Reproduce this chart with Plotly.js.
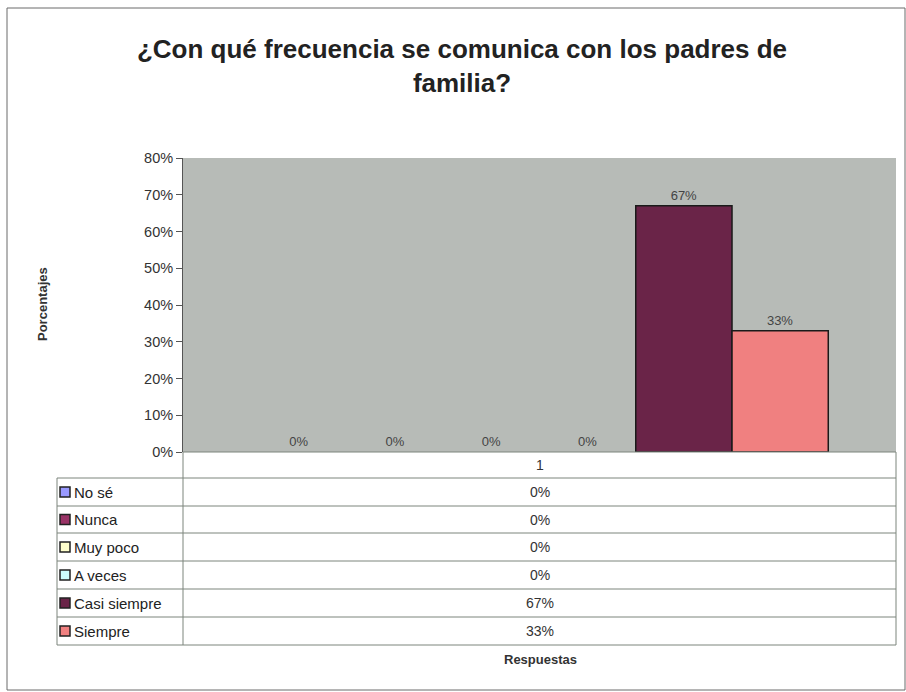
<!DOCTYPE html>
<html>
<head>
<meta charset="utf-8">
<script src="https://cdn.plot.ly/plotly-3.0.1.min.js"></script>
<style>html,body{margin:0;padding:0;background:#fff;}#chart{width:906px;height:692px;}</style>
</head>
<body>
<div id="chart"></div>
<script>
// ---- data ----
const categories = ["1"];
const seriesNames = ["No sé", "Nunca", "Muy poco", "A veces", "Casi siempre", "Siempre"];
const seriesValues = [0, 0, 0, 0, 0.67, 0.33];
const seriesColors = ["#9999ff", "#993366", "#ffffcc", "#ccffff", "#6a2448", "#f08080"];
const yTickVals = [0, 0.1, 0.2, 0.3, 0.4, 0.5, 0.6, 0.7, 0.8];
const yTickText = ["0%", "10%", "20%", "30%", "40%", "50%", "60%", "70%", "80%"];

// ---- geometry helpers (pixel -> paper) ----
const W = 906, H = 692;
const L = 183, R = 896, T = 158, B = 452;
const px = x => (x - L) / (R - L);
const py = y => (B - y) / (B - T);
const FONT = "Arial, Liberation Sans, sans-serif";

const traces = seriesNames.map((name, i) => ({
  type: "bar",
  name: name,
  x: categories,
  y: [seriesValues[i]],
  marker: {color: seriesColors[i], line: {color: "#1a1a1a", width: seriesValues[i] > 0 ? 1.5 : 0}},
  text: [Math.round(seriesValues[i] * 100) + "%"],
  textposition: "outside",
  cliponaxis: false,
  textfont: {family: FONT, size: 13, color: "#444"},
  showlegend: false,
  hoverinfo: "skip"
}));

const shapes = [];
const annotations = [];
const lineCol = "#7d857d";

// outer frame
shapes.push({type: "rect", xref: "paper", yref: "paper", x0: px(7), x1: px(905), y0: py(8), y1: py(690),
  line: {color: "#6a6a6a", width: 1}, fillcolor: "rgba(0,0,0,0)"});

// table
const rowBounds = [478, 506, 533, 561, 589, 617, 645];
shapes.push({type: "line", xref: "paper", yref: "paper", x0: px(L), x1: px(R), y0: py(B), y1: py(B), line: {color: lineCol, width: 1}});
shapes.push({type: "line", xref: "paper", yref: "paper", x0: px(L), x1: px(L), y0: py(B), y1: py(645), line: {color: lineCol, width: 1}});
shapes.push({type: "line", xref: "paper", yref: "paper", x0: px(R), x1: px(R), y0: py(B), y1: py(645), line: {color: lineCol, width: 1}});
shapes.push({type: "line", xref: "paper", yref: "paper", x0: px(57), x1: px(57), y0: py(478), y1: py(645), line: {color: lineCol, width: 1}});
rowBounds.forEach(yb => {
  shapes.push({type: "line", xref: "paper", yref: "paper", x0: px(57), x1: px(R), y0: py(yb), y1: py(yb), line: {color: lineCol, width: 1}});
});
annotations.push({xref: "paper", yref: "paper", x: px((L + R) / 2), y: py(465), xanchor: "center", yanchor: "middle",
  text: categories[0], showarrow: false, font: {family: FONT, size: 14, color: "#333"}});

seriesNames.forEach((name, i) => {
  const y0 = rowBounds[i], y1 = rowBounds[i + 1], yc = (y0 + y1) / 2;
  shapes.push({type: "rect", xref: "paper", yref: "paper", x0: px(60), x1: px(70), y0: py(yc - 5), y1: py(yc + 5),
    fillcolor: seriesColors[i], line: {color: "#222", width: 1.5}});
  annotations.push({xref: "paper", yref: "paper", x: px(72), y: py(yc), xanchor: "left", yanchor: "middle",
    text: name, showarrow: false, font: {family: FONT, size: 15, color: "#222"}});
  annotations.push({xref: "paper", yref: "paper", x: px((L + R) / 2), y: py(yc), xanchor: "center", yanchor: "middle",
    text: Math.round(seriesValues[i] * 100) + "%", showarrow: false, font: {family: FONT, size: 14, color: "#333"}});
});

annotations.push({xref: "paper", yref: "paper", x: px(540), y: py(659), xanchor: "center", yanchor: "middle",
  text: "<b>Respuestas</b>", showarrow: false, font: {family: FONT, size: 13, color: "#333"}});

// y-axis title as rotated annotation
annotations.push({xref: "paper", yref: "paper", x: px(42), y: py(304), xanchor: "center", yanchor: "middle",
  textangle: -90, text: "<b>Porcentajes</b>", showarrow: false, font: {family: FONT, size: 13, color: "#333"}});

const layout = {
  width: W, height: H,
  margin: {l: L, r: W - R, t: T, b: H - B, pad: 0},
  paper_bgcolor: "#ffffff",
  plot_bgcolor: "#b7bbb7",
  title: {
    text: "<b>¿Con qué frecuencia se comunica con los padres de<br>familia?</b>",
    x: 462 / W, xref: "container", xanchor: "center",
    y: 1 - 58 / H, yref: "container", yanchor: "middle",
    font: {family: FONT, size: 26, color: "#222"}
  },
  barmode: "group",
  bargap: 0.19,
  bargroupgap: 0,
  xaxis: {
    type: "category",
    showticklabels: false,
    showgrid: false, zeroline: false, showline: false, ticks: ""
  },
  yaxis: {
    range: [0, 0.8],
    tickvals: yTickVals, ticktext: yTickText,
    showgrid: false, zeroline: false,
    showline: true, linecolor: "#555", linewidth: 1,
    ticks: "outside", ticklen: 6, tickcolor: "#555",
    tickfont: {family: FONT, size: 14.5, color: "#333"}
  },
  shapes: shapes,
  annotations: annotations
};

Plotly.newPlot("chart", traces, layout, {displayModeBar: false, staticPlot: true});
</script>
</body>
</html>
